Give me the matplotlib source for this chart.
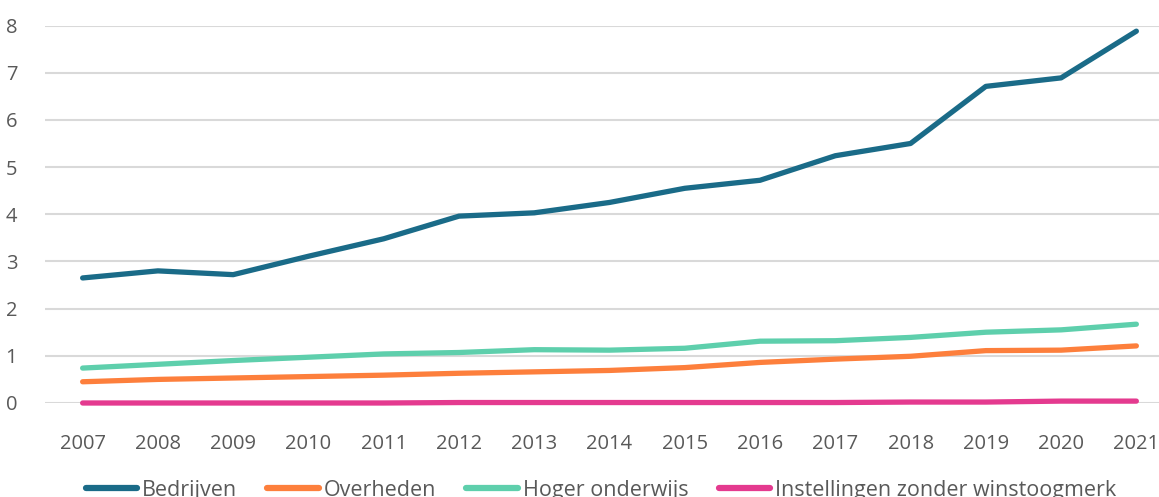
import matplotlib
matplotlib.use("Agg")
import matplotlib.pyplot as plt

years = ["2007", "2008", "2009", "2010", "2011", "2012", "2013", "2014",
         "2015", "2016", "2017", "2018", "2019", "2020", "2021"]
bedrijven = [2.65, 2.80, 2.72, 3.11, 3.48, 3.96, 4.03, 4.25, 4.55, 4.72, 5.24, 5.50, 6.71, 6.89, 7.88]
overheden = [0.45, 0.50, 0.53, 0.56, 0.59, 0.63, 0.66, 0.69, 0.75, 0.86, 0.93, 0.99, 1.11, 1.12, 1.21]
hoger = [0.74, 0.82, 0.90, 0.97, 1.04, 1.07, 1.13, 1.12, 1.16, 1.31, 1.32, 1.39, 1.50, 1.55, 1.67]
instellingen = [0.00, 0.00, 0.00, 0.00, 0.00, 0.01, 0.01, 0.01, 0.01, 0.01, 0.01, 0.02, 0.02, 0.04, 0.04]
yticks = [0, 1, 2, 3, 4, 5, 6, 7, 8]

series = [
    ("Bedrijven", bedrijven, "#1a6b88"),
    ("Overheden", overheden, "#fd7f3c"),
    ("Hoger onderwijs", hoger, "#5ecfac"),
    ("Instellingen zonder winstoogmerk", instellingen, "#e43a8f"),
]

plt.rcParams['font.family'] = ['Open Sans', 'DejaVu Sans']
text_color = "#595959"

fig = plt.figure(figsize=(11.59, 4.97), dpi=100)
ax = fig.add_axes([45 / 1159, (497 - 403) / 497, (1174 - 45) / 1159, (403 - 25.5) / 497])

x = list(range(len(years)))
for name, vals, col in series:
    ax.plot(x, vals, color=col, lw=3.8, solid_capstyle="round",
            solid_joinstyle="round", label=name, zorder=3, clip_on=False)

ax.set_xlim(-0.5, len(years) - 0.5)
ax.set_ylim(0, 8)
ax.set_yticks(yticks)
ax.set_yticklabels([str(v) for v in yticks])
ax.set_xticks(x)
ax.set_xticklabels(years)
ax.grid(axis="y", color="#d9d9d9", lw=1.5, zorder=0)
ax.set_axisbelow(True)
for s in ax.spines.values():
    s.set_visible(False)
ax.tick_params(axis="both", length=0, colors=text_color, labelsize=14.5)
ax.tick_params(axis="y", pad=20)
ax.tick_params(axis="x", pad=22)

leg = fig.legend(loc="center", bbox_to_anchor=(601 / 1159, 0.014), ncol=4,
                 frameon=False, fontsize=15.5, handlelength=2.4,
                 handletextpad=0.22, columnspacing=1.4, labelcolor=text_color)
for h in leg.get_lines():
    h.set_linewidth(4.5)
    h.set_solid_capstyle("round")

fig.savefig("out.png", dpi=100)
